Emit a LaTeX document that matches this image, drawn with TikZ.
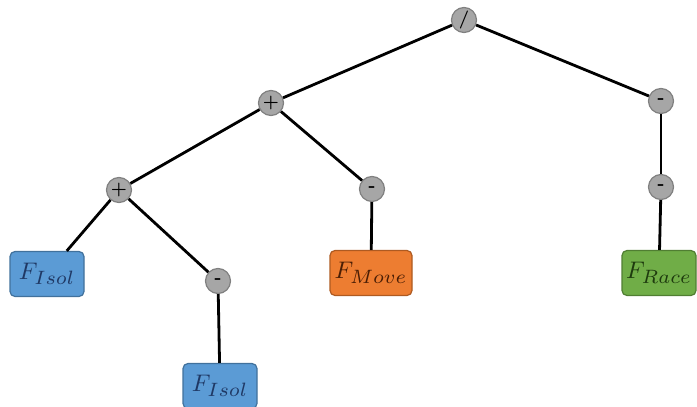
\documentclass[tikz,border=0pt]{standalone}
\usepackage{graphicx}
\usepackage{xcolor}
\definecolor{opfill}{HTML}{A6A6A6}
\definecolor{opdraw}{HTML}{808080}
\definecolor{bfill}{HTML}{5B9BD5}
\definecolor{bdraw}{HTML}{41719C}
\definecolor{btext}{HTML}{1F3864}
\definecolor{ofill}{HTML}{ED7D31}
\definecolor{odraw}{HTML}{AE5A21}
\definecolor{otext}{HTML}{4A1E05}
\definecolor{gfill}{HTML}{70AD47}
\definecolor{gdraw}{HTML}{507E32}
\definecolor{gtext}{HTML}{1E3A0E}
\newcommand{\oplab}[1]{\scalebox{1.8}{\bfseries #1}}
\newcommand{\leaflab}[2]{\scalebox{2.4}{$#1_{\scalebox{1.15}{$\scriptstyle #2$}}$}}
\begin{document}
\begin{tikzpicture}[x=1pt,y=-1pt,
  op/.style={circle,fill=opfill,draw=opdraw,line width=1.2pt,minimum size=25pt,inner sep=0pt},
  leaf/.style={rounded corners=5pt,line width=1.2pt,minimum width=74pt,minimum height=45pt,inner sep=0pt},
  edge/.style={line width=2.8pt,black}]
\useasboundingbox (0,0) rectangle (697,407);
\node[op] (root) at (464,20) {\oplab{/}};
\node[op] (p1) at (271,103) {\oplab{+}};
\node[op] (m1) at (661,101) {\oplab{-}};
\node[op] (m2) at (661,187) {\oplab{-}};
\node[op] (p2) at (119,190) {\oplab{+}};
\node[op] (m3) at (372,189) {\oplab{-}};
\node[op] (m4) at (218,281) {\oplab{-}};
\node[leaf,fill=bfill,draw=bdraw,text=btext] (f1) at (47,274) {\leaflab{F}{Isol}};
\node[leaf,fill=bfill,draw=bdraw,text=btext] (f2) at (220,386) {\leaflab{F}{Isol}};
\node[leaf,fill=ofill,draw=odraw,text=otext,minimum width=82pt] (f3) at (371,273) {\leaflab{F}{Move}};
\node[leaf,fill=gfill,draw=gdraw,text=gtext] (f4) at (659,273) {\leaflab{F}{Race}};
\draw[edge] (root) -- (p1);
\draw[edge] (root) -- (m1);
\draw[edge] (m1) -- (m2);
\draw[edge] (m2) -- (f4);
\draw[edge] (p1) -- (p2);
\draw[edge] (p1) -- (m3);
\draw[edge] (m3) -- (f3);
\draw[edge] (p2) -- (f1);
\draw[edge] (p2) -- (m4);
\draw[edge] (m4) -- (f2);
\end{tikzpicture}
\end{document}
